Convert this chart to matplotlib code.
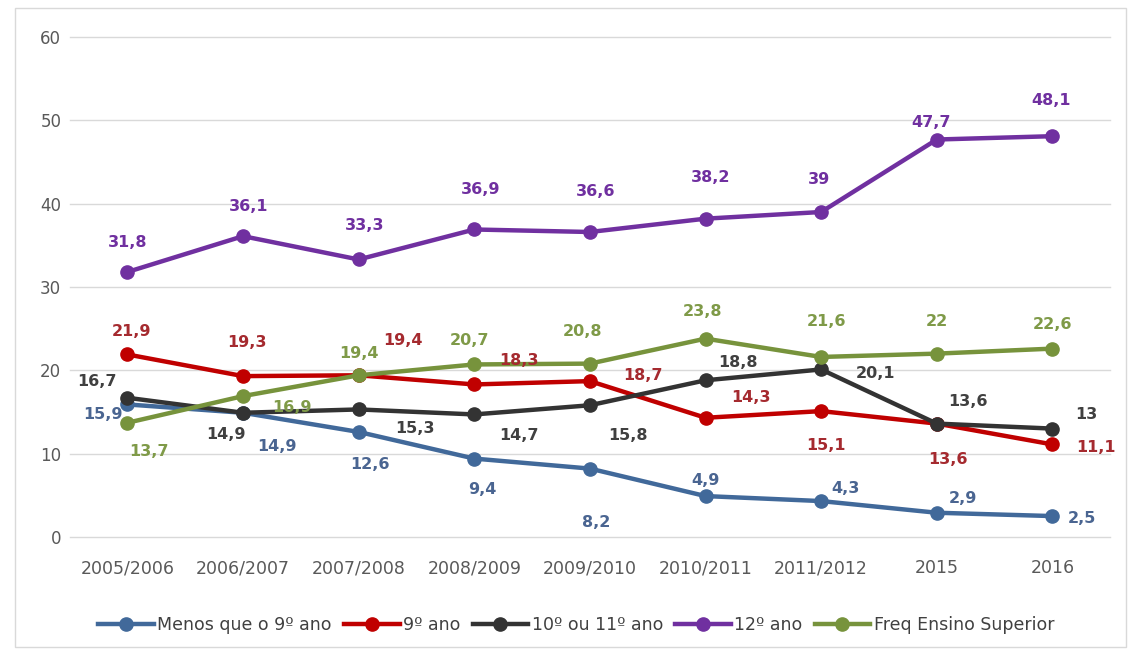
import matplotlib
matplotlib.use("Agg")
import matplotlib.pyplot as plt
from matplotlib.patches import Rectangle

# Data
years = ["2005/2006", "2006/2007", "2007/2008", "2008/2009", "2009/2010",
         "2010/2011", "2011/2012", "2015", "2016"]
menos_9 = [15.9, 14.9, 12.6, 9.4, 8.2, 4.9, 4.3, 2.9, 2.5]
ano_9 = [21.9, 19.3, 19.4, 18.3, 18.7, 14.3, 15.1, 13.6, 11.1]
ano_10_11 = [16.7, 14.9, 15.3, 14.7, 15.8, 18.8, 20.1, 13.6, 13]
ano_12 = [31.8, 36.1, 33.3, 36.9, 36.6, 38.2, 39, 47.7, 48.1]
ens_sup = [13.7, 16.9, 19.4, 20.7, 20.8, 23.8, 21.6, 22, 22.6]

series = [
    ("Menos que o 9º ano", menos_9, "#41699a", "#4a6591"),
    ("9º ano", ano_9, "#c00000", "#a52a2f"),
    ("10º ou 11º ano", ano_10_11, "#333333", "#404040"),
    ("12º ano", ano_12, "#7030a0", "#7030a0"),
    ("Freq Ensino Superior", ens_sup, "#77933c", "#7f9a48"),
]

# label offsets in pixels (dx, dy with y up), as placed in the original
offsets = [
    [(-24, -10), (34, -34), (11, -33), (8, -31), (6, -54), (0, 16), (24, 13), (26, 14), (30, -2)],
    [(4, 23), (4, 34), (44, 35), (45, 24), (53, 6), (45, 20), (5, -34), (11, -36), (44, -3)],
    [(-30, 16), (-17, -22), (56, -19), (45, -21), (38, -30), (32, 18), (54, -4), (31, 22), (34, 14)],
    [(0, 29), (6, 30), (6, 34), (6, 40), (6, 40), (5, 41), (-2, 32), (-6, 17), (-1, 36)],
    [(22, -29), (49, -11), (0, 22), (-5, 24), (-7, 32), (-3, 27), (5, 35), (0, 32), (0, 24)],
]


def fmt(v):
    if v == int(v):
        return str(int(v))
    return str(v).replace(".", ",")


fig = plt.figure(figsize=(11.41, 6.5), dpi=100)
ax = fig.add_axes([0.061, 0.174, 0.912, 0.769])

x = list(range(len(years)))
for (name, vals, lc, tc), offs in zip(series, offsets):
    ax.plot(x, vals, color=lc, linewidth=3.2, marker="o", markersize=9.5,
            label=name, zorder=3)
    for xi, v, (dx, dy) in zip(x, vals, offs):
        ax.annotate(fmt(v), (xi, v), xytext=(dx, dy), textcoords="offset pixels",
                    ha="center", va="center", color=tc, fontsize=11.5,
                    fontweight="bold", zorder=4)

ax.set_xlim(-0.5, len(years) - 0.5)
ax.set_ylim(0, 60)
ax.set_yticks(range(0, 61, 10))
ax.set_xticks(x)
ax.set_xticklabels(years)
ax.grid(axis="y", color="#d9d9d9", linewidth=1)
for gl in ax.get_ygridlines():
    gl.set_clip_on(False)
ax.set_axisbelow(True)
for s in ax.spines.values():
    s.set_visible(False)
ax.tick_params(axis="both", length=0, colors="#595959", labelsize=12)
ax.tick_params(axis="x", labelsize=12.5, pad=16)
ax.tick_params(axis="y", pad=6)

fig.legend(loc="center", bbox_to_anchor=(0.505, 0.038), ncol=5, frameon=False,
           fontsize=12.5, handlelength=3.2, columnspacing=0.7, handletextpad=0.2,
           labelcolor="#404040")

fig.patches.append(Rectangle((0.013, 0.004), 0.974, 0.983, transform=fig.transFigure,
                             fill=False, edgecolor="#d9d9d9", linewidth=1))

fig.savefig("out.png", dpi=100)
